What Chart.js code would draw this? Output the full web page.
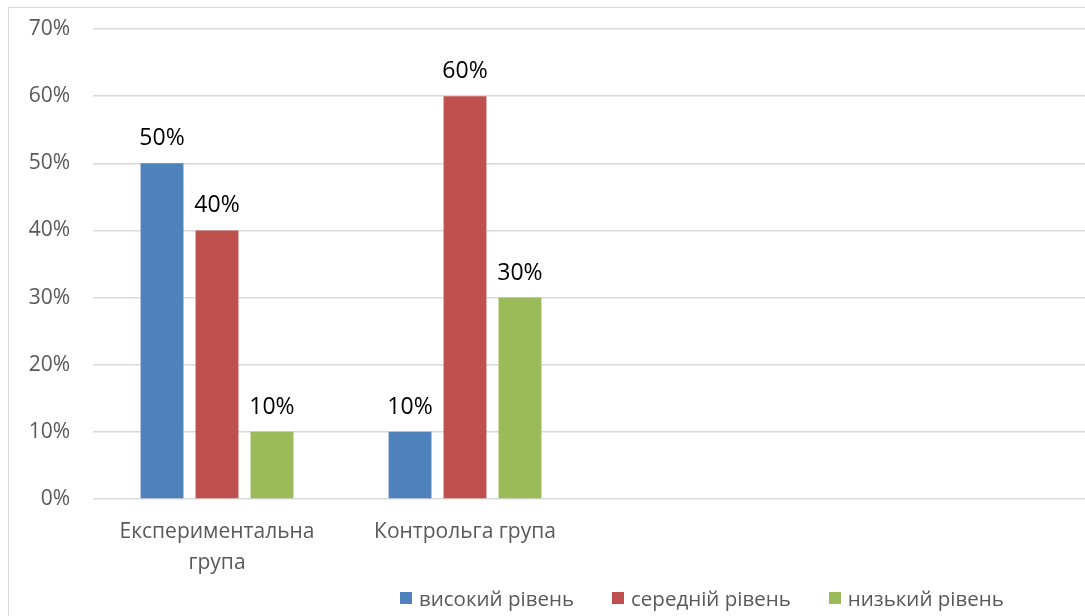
<!DOCTYPE html>
<html>
<head>
<meta charset="utf-8">
<script src="https://cdn.jsdelivr.net/npm/chart.js@4.4.0/dist/chart.umd.min.js"></script>
<style>
  html, body { margin: 0; padding: 0; background: #fff; overflow: hidden; }
  #frame { position: absolute; left: 8px; top: 7px; width: 1200px; height: 700px;
           border-left: 1px solid #d9d9d9; border-top: 1px solid #d9d9d9; }
  #myChart { position: absolute; left: 0; top: 0; }
  #legend { position: absolute; left: 400px; top: 584px; display: flex;
            font-family: "Open Sans", sans-serif; font-size: 20.5px; color: #595959; }
  #legend .item { display: flex; align-items: center; margin-right: 38px; }
  #legend .box { width: 12px; height: 12px; margin-right: 7px; }
</style>
</head>
<body>
<div id="frame"></div>
<canvas id="myChart" width="1085" height="616"></canvas>
<div id="legend"></div>
<script>
var categories = [['Експериментальна', 'група'], 'Контрольга група', '', '']
var seriesNames = ['високий рівень', 'середній рівень', 'низький рівень']
var highLevel = [50, 10, null, null]
var midLevel = [40, 60, null, null]
var lowLevel = [10, 30, null, null]
var yTicks = [0, 10, 20, 30, 40, 50, 60, 70]
var colors = ['#4F81BD', '#C0504D', '#9BBB59']

// value labels above bars
var barLabels = {
      id: 'barLabels',
      afterDatasetsDraw: function (chart) {
            var ctx = chart.ctx
            ctx.save()
            ctx.font = '23px "Open Sans", sans-serif'
            ctx.fillStyle = '#000'
            ctx.textAlign = 'center'
            ctx.textBaseline = 'alphabetic'
            chart.data.datasets.forEach(function (ds, i) {
                  chart.getDatasetMeta(i).data.forEach(function (bar, j) {
                        if (ds.data[j] == null) return
                        ctx.fillText(ds.data[j] + '%', bar.x, bar.y - 18)
                  })
            })
            ctx.restore()
      }
}

// legend as html, built from datasets
var htmlLegend = {
      id: 'htmlLegend',
      afterUpdate: function (chart) {
            var box = document.getElementById('legend')
            box.innerHTML = ''
            chart.data.datasets.forEach(function (ds) {
                  var item = document.createElement('div')
                  item.className = 'item'
                  var sq = document.createElement('span')
                  sq.className = 'box'
                  sq.style.background = ds.backgroundColor
                  var txt = document.createElement('span')
                  txt.textContent = ds.label
                  item.appendChild(sq)
                  item.appendChild(txt)
                  box.appendChild(item)
            })
      }
}

var ctx = document.getElementById('myChart')
var myChart = new Chart(ctx, {
      type: 'bar',
      data: {
            labels: categories,
            datasets: [
                  { label: seriesNames[0], data: highLevel, backgroundColor: colors[0] },
                  { label: seriesNames[1], data: midLevel, backgroundColor: colors[1] },
                  { label: seriesNames[2], data: lowLevel, backgroundColor: colors[2] }
            ]
      },
      options: {
            animation: false,
            responsive: false,
            categoryPercentage: 0.665,
            barPercentage: 0.78,
            layout: { padding: { top: 29, right: 0, left: 0, bottom: 0 } },
            plugins: {
                  legend: { display: false },
                  tooltip: { enabled: false }
            },
            scales: {
                  x: {
                        grid: { display: false },
                        border: { display: false },
                        ticks: {
                              color: '#595959',
                              padding: 10,
                              maxRotation: 0,
                              autoSkip: false,
                              font: { family: '"Open Sans", sans-serif', size: 21, lineHeight: 1.45 }
                        },
                        afterFit: function (scale) {
                              scale.height = 117
                              scale.paddingLeft = 0
                              scale.paddingRight = 0
                        }
                  },
                  y: {
                        min: 0,
                        max: 70,
                        afterBuildTicks: function (scale) {
                              scale.ticks = yTicks.map(function (v) { return { value: v } })
                        },
                        grid: { color: '#d9d9d9', lineWidth: 1.5, drawTicks: false },
                        border: { display: false },
                        ticks: {
                              color: '#595959',
                              padding: 23,
                              font: { family: '"Open Sans", sans-serif', size: 21 },
                              callback: function (v) { return v + '%' }
                        },
                        afterFit: function (scale) {
                              scale.width = 93
                              scale.paddingTop = 0
                              scale.paddingBottom = 0
                        }
                  }
            }
      },
      plugins: [barLabels, htmlLegend]
})
</script>
</body>
</html>
